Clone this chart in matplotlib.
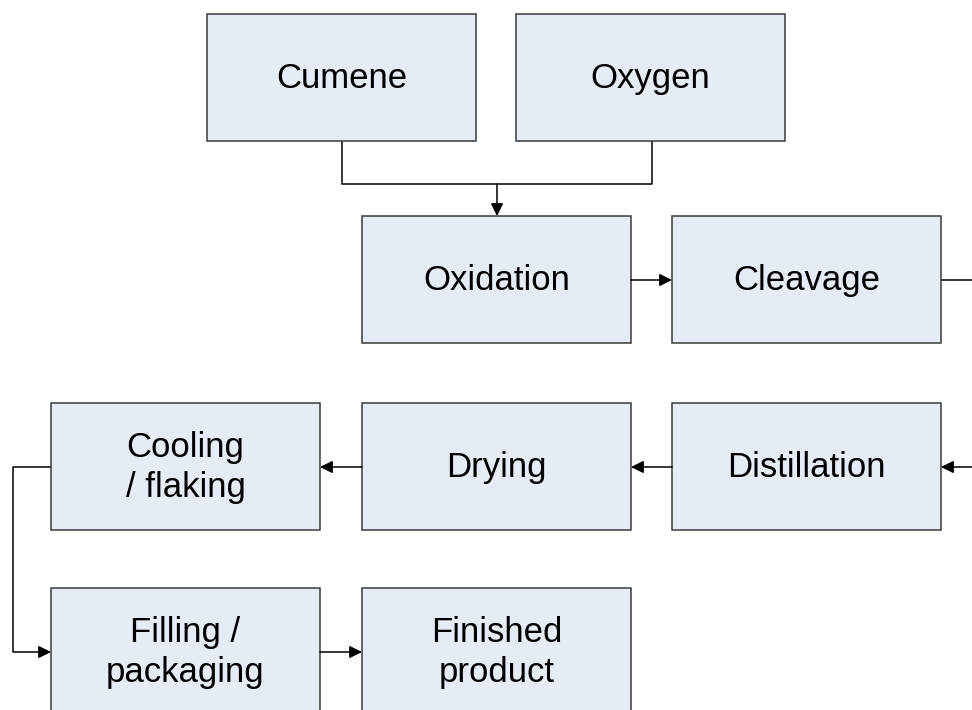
import matplotlib
matplotlib.use("Agg")
import matplotlib.pyplot as plt
from matplotlib.patches import Rectangle

plt.rcParams['font.family'] = ['Liberation Sans', 'DejaVu Sans']

# Node labels
labels = ["Cumene", "Oxygen", "Oxidation", "Cleavage", "Distillation",
          "Drying", "Cooling\n/ flaking", "Filling /\npackaging", "Finished\nproduct"]

# Layout (pixel coordinates: left, top, width, height)
W, H = 269, 127
layout = {
    "Cumene": (207, 14), "Oxygen": (516, 14),
    "Oxidation": (362, 216), "Cleavage": (672, 216),
    "Distillation": (672, 403), "Drying": (362, 403), "Cooling\n/ flaking": (51, 403),
    "Filling /\npackaging": (51, 588), "Finished\nproduct": (362, 588),
}

fig = plt.figure(figsize=(9.72, 7.10), dpi=100)
ax = fig.add_axes([0, 0, 1, 1])
ax.set_xlim(0, 972)
ax.set_ylim(710, 0)
ax.axis('off')

fill = '#E6ECF6'
edge = '#3a3a3a'
for lab in labels:
    x, y = layout[lab]
    ax.add_patch(Rectangle((x, y), W, H, facecolor=fill, edgecolor=edge, lw=1.1, zorder=2))
    ax.text(x + W / 2, y + H / 2 + 1, lab, ha='center', va='center', fontsize=25.0,
            linespacing=1.28, color='black', zorder=3)

lc = 'black'
lw = 1.1

def line(xs, ys):
    ax.plot(xs, ys, color=lc, lw=lw, solid_capstyle='butt', zorder=1)

def arrow(x0, y0, x1, y1):
    ax.annotate('', xy=(x1, y1), xytext=(x0, y0),
                arrowprops=dict(arrowstyle='-|>,head_length=0.5,head_width=0.25',
                                color=lc, lw=lw, shrinkA=0, shrinkB=0,
                                mutation_scale=15), zorder=4)

# Cumene + Oxygen -> Oxidation
line([342, 342, 652, 652], [141, 184, 184, 141])
arrow(497, 184, 497, 216)
# Oxidation -> Cleavage
arrow(631, 280, 672, 280)
# Cleavage -> off right
line([941, 972], [280, 280])
# off right -> Distillation
arrow(972, 467, 941, 467)
# Distillation -> Drying
arrow(672, 467, 631, 467)
# Drying -> Cooling
arrow(362, 467, 320, 467)
# Cooling -> Filling
line([51, 13, 13], [467, 467, 652])
arrow(13, 652, 51, 652)
# Filling -> Finished
arrow(320, 652, 362, 652)

fig.savefig('out.png', dpi=100)
